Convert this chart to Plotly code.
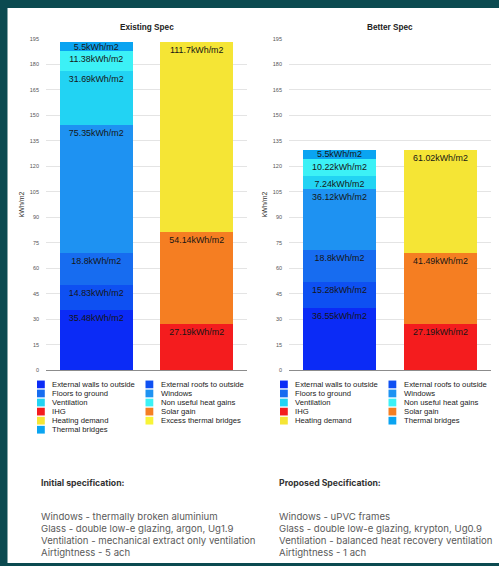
import plotly.graph_objects as go

W, H = 499, 566

# ---- data -------------------------------------------------------------
columns = ["Heat losses", "Heat gains"]

loss_names = [
    "External walls to outside",
    "External roofs to outside",
    "Floors to ground",
    "Windows",
    "Ventilation",
    "Non useful heat gains",
    "Thermal bridges",
]
existing_losses = [35.48, 14.83, 18.8, 75.35, 31.69, 11.38, 5.5]
better_losses = [36.55, 15.28, 18.8, 36.12, 7.24, 10.22, 5.5]

gain_names = ["IHG", "Solar gain", "Heating demand"]
existing_gains = [27.19, 54.14, 111.7]
better_gains = [27.19, 41.49, 61.02]

existing_legend = [
    "External walls to outside", "External roofs to outside",
    "Floors to ground", "Windows",
    "Ventilation", "Non useful heat gains",
    "IHG", "Solar gain",
    "Heating demand", "Excess thermal bridges",
    "Thermal bridges",
]
better_legend = [
    "External walls to outside", "External roofs to outside",
    "Floors to ground", "Windows",
    "Ventilation", "Non useful heat gains",
    "IHG", "Solar gain",
    "Heating demand", "Thermal bridges",
]

y_ticks = [0, 15, 30, 45, 60, 75, 90, 105, 120, 135, 150, 165, 180, 195]

initial_spec = [
    "Windows - thermally broken aluminium",
    "Glass - double low-e glazing, argon, Ug1.9",
    "Ventilation - mechanical extract only ventilation",
    "Airtightness - 5 ach",
]
proposed_spec = [
    "Windows - uPVC frames",
    "Glass - double low-e glazing, krypton, Ug0.9",
    "Ventilation - balanced heat recovery ventilation",
    "Airtightness - 1 ach",
]

colors = {
    "External walls to outside": "#0b2bf6",
    "External roofs to outside": "#0e50f2",
    "Floors to ground": "#176cf0",
    "Windows": "#1e92f2",
    "Ventilation": "#22d3f3",
    "Non useful heat gains": "#3cf1f6",
    "Thermal bridges": "#0aa4f1",
    "IHG": "#f41c1e",
    "Solar gain": "#f57e22",
    "Heating demand": "#f5e535",
    "Excess thermal bridges": "#f8f437",
}

# ---- layout helpers ----------------------------------------------------
CHART_FONT = "Liberation Sans, Arial, Helvetica, sans-serif"
SPEC_FONT = "Inter, Lato, sans-serif"


def px_x(p):
    return p / W


def px_y(p):
    return 1 - p / H


panels = [
    dict(title="Existing Spec", losses=existing_losses, gains=existing_gains,
         legend=existing_legend, left=46, right=247, xa="x", ya="y"),
    dict(title="Better Spec", losses=better_losses, gains=better_gains,
         legend=better_legend, left=289, right=491, xa="x2", ya="y2"),
]

PLOT_TOP, PLOT_BOTTOM = 36, 371


def segment(column, name, val, p):
    # thin segments get their label centred, taller ones carry it at the top
    return go.Bar(
        x=[column], y=[val], name=name,
        text=[f"{val:g}kWh/m2"],
        insidetextanchor="middle" if val < 7 else "end",
        marker=dict(color=colors[name], line=dict(width=0)),
        xaxis=p["xa"], yaxis=p["ya"], showlegend=False,
    )


fig = go.Figure()

for p in panels:
    for name, val in zip(loss_names, p["losses"]):
        fig.add_trace(segment(columns[0], name, val, p))
    for name, val in zip(gain_names, p["gains"]):
        fig.add_trace(segment(columns[1], name, val, p))

fig.update_traces(
    textposition="inside", constraintext="none",
    textfont=dict(family=CHART_FONT, size=8.9, color="#161616"),
    hoverinfo="skip",
)

annotations = []
shapes = [
    # white card behind everything
    dict(type="rect", xref="paper", yref="paper", x0=px_x(7.5), x1=1,
         y0=0, y1=px_y(5), fillcolor="white", line=dict(width=0), layer="below"),
]

axis_common_y = dict(
    range=[0, 195], tickvals=y_ticks, showgrid=True, gridcolor="#e4e4e4",
    gridwidth=1, zeroline=True, zerolinecolor="#8c8c8c", zerolinewidth=1,
    showline=False, ticks="", ticklabelstandoff=6,
    tickfont=dict(family=CHART_FONT, size=5.5, color="#555555"),
    title=dict(text="kWh/m2", standoff=4,
               font=dict(family=CHART_FONT, size=7, color="#333333")),
    fixedrange=True,
)
axis_common_x = dict(
    showticklabels=False, showgrid=False, zeroline=False, showline=False,
    ticks="", categoryorder="array", categoryarray=columns, fixedrange=True,
)

layout_axes = {}
for i, p in enumerate(panels):
    suffix = "" if i == 0 else str(i + 1)
    layout_axes["xaxis" + suffix] = dict(
        axis_common_x, domain=[px_x(p["left"]), px_x(p["right"])],
        anchor="y" + suffix)
    layout_axes["yaxis" + suffix] = dict(
        axis_common_y, domain=[px_y(PLOT_BOTTOM), px_y(PLOT_TOP)],
        anchor="x" + suffix)

    # chart title
    annotations.append(dict(
        text=f"<b>{p['title']}</b>", xref="paper", yref="paper",
        x=px_x((p["left"] + p["right"]) / 2), y=px_y(25),
        xanchor="center", yanchor="middle", showarrow=False,
        font=dict(family=CHART_FONT, size=8.2, color="#222222")))

    # two-column legend
    for k, name in enumerate(p["legend"]):
        row, col = divmod(k, 2)
        cy = 385.5 + row * 9.16
        sx = p["left"] - 9 + col * 108.5
        shapes.append(dict(
            type="rect", xref="paper", yref="paper",
            x0=px_x(sx), x1=px_x(sx + 7.8),
            y0=px_y(cy + 3.9), y1=px_y(cy - 3.9),
            fillcolor=colors[name], line=dict(width=0)))
        annotations.append(dict(
            text=name, xref="paper", yref="paper",
            x=px_x(sx + 13), y=px_y(cy), xanchor="left", yanchor="middle",
            showarrow=False,
            font=dict(family=CHART_FONT, size=7.7, color="#222222")))

# specification notes under each chart
for x0, heading, lines in [(39, "Initial specification:", initial_spec),
                           (277, "Proposed Specification:", proposed_spec)]:
    annotations.append(dict(
        text=f"<b>{heading}</b>", xref="paper", yref="paper",
        x=px_x(x0), y=px_y(485), xanchor="left", yanchor="middle",
        showarrow=False, font=dict(family=SPEC_FONT, size=8.7, color="#333333")))
    for j, line in enumerate(lines):
        annotations.append(dict(
            text=line, xref="paper", yref="paper",
            x=px_x(x0), y=px_y(519.5 + j * 11.9), xanchor="left",
            yanchor="middle", showarrow=False,
            font=dict(family=SPEC_FONT, size=9.6, color="#5a5a5a")))

fig.update_layout(
    width=W, height=H,
    margin=dict(l=0, r=0, t=0, b=0),
    paper_bgcolor="#0b4a50",
    plot_bgcolor="white",
    barmode="stack",
    bargap=0.27,
    showlegend=False,
    annotations=annotations,
    shapes=shapes,
    font=dict(family=CHART_FONT),
    **layout_axes,
)

fig.write_html("out.html", config={"displayModeBar": False})
